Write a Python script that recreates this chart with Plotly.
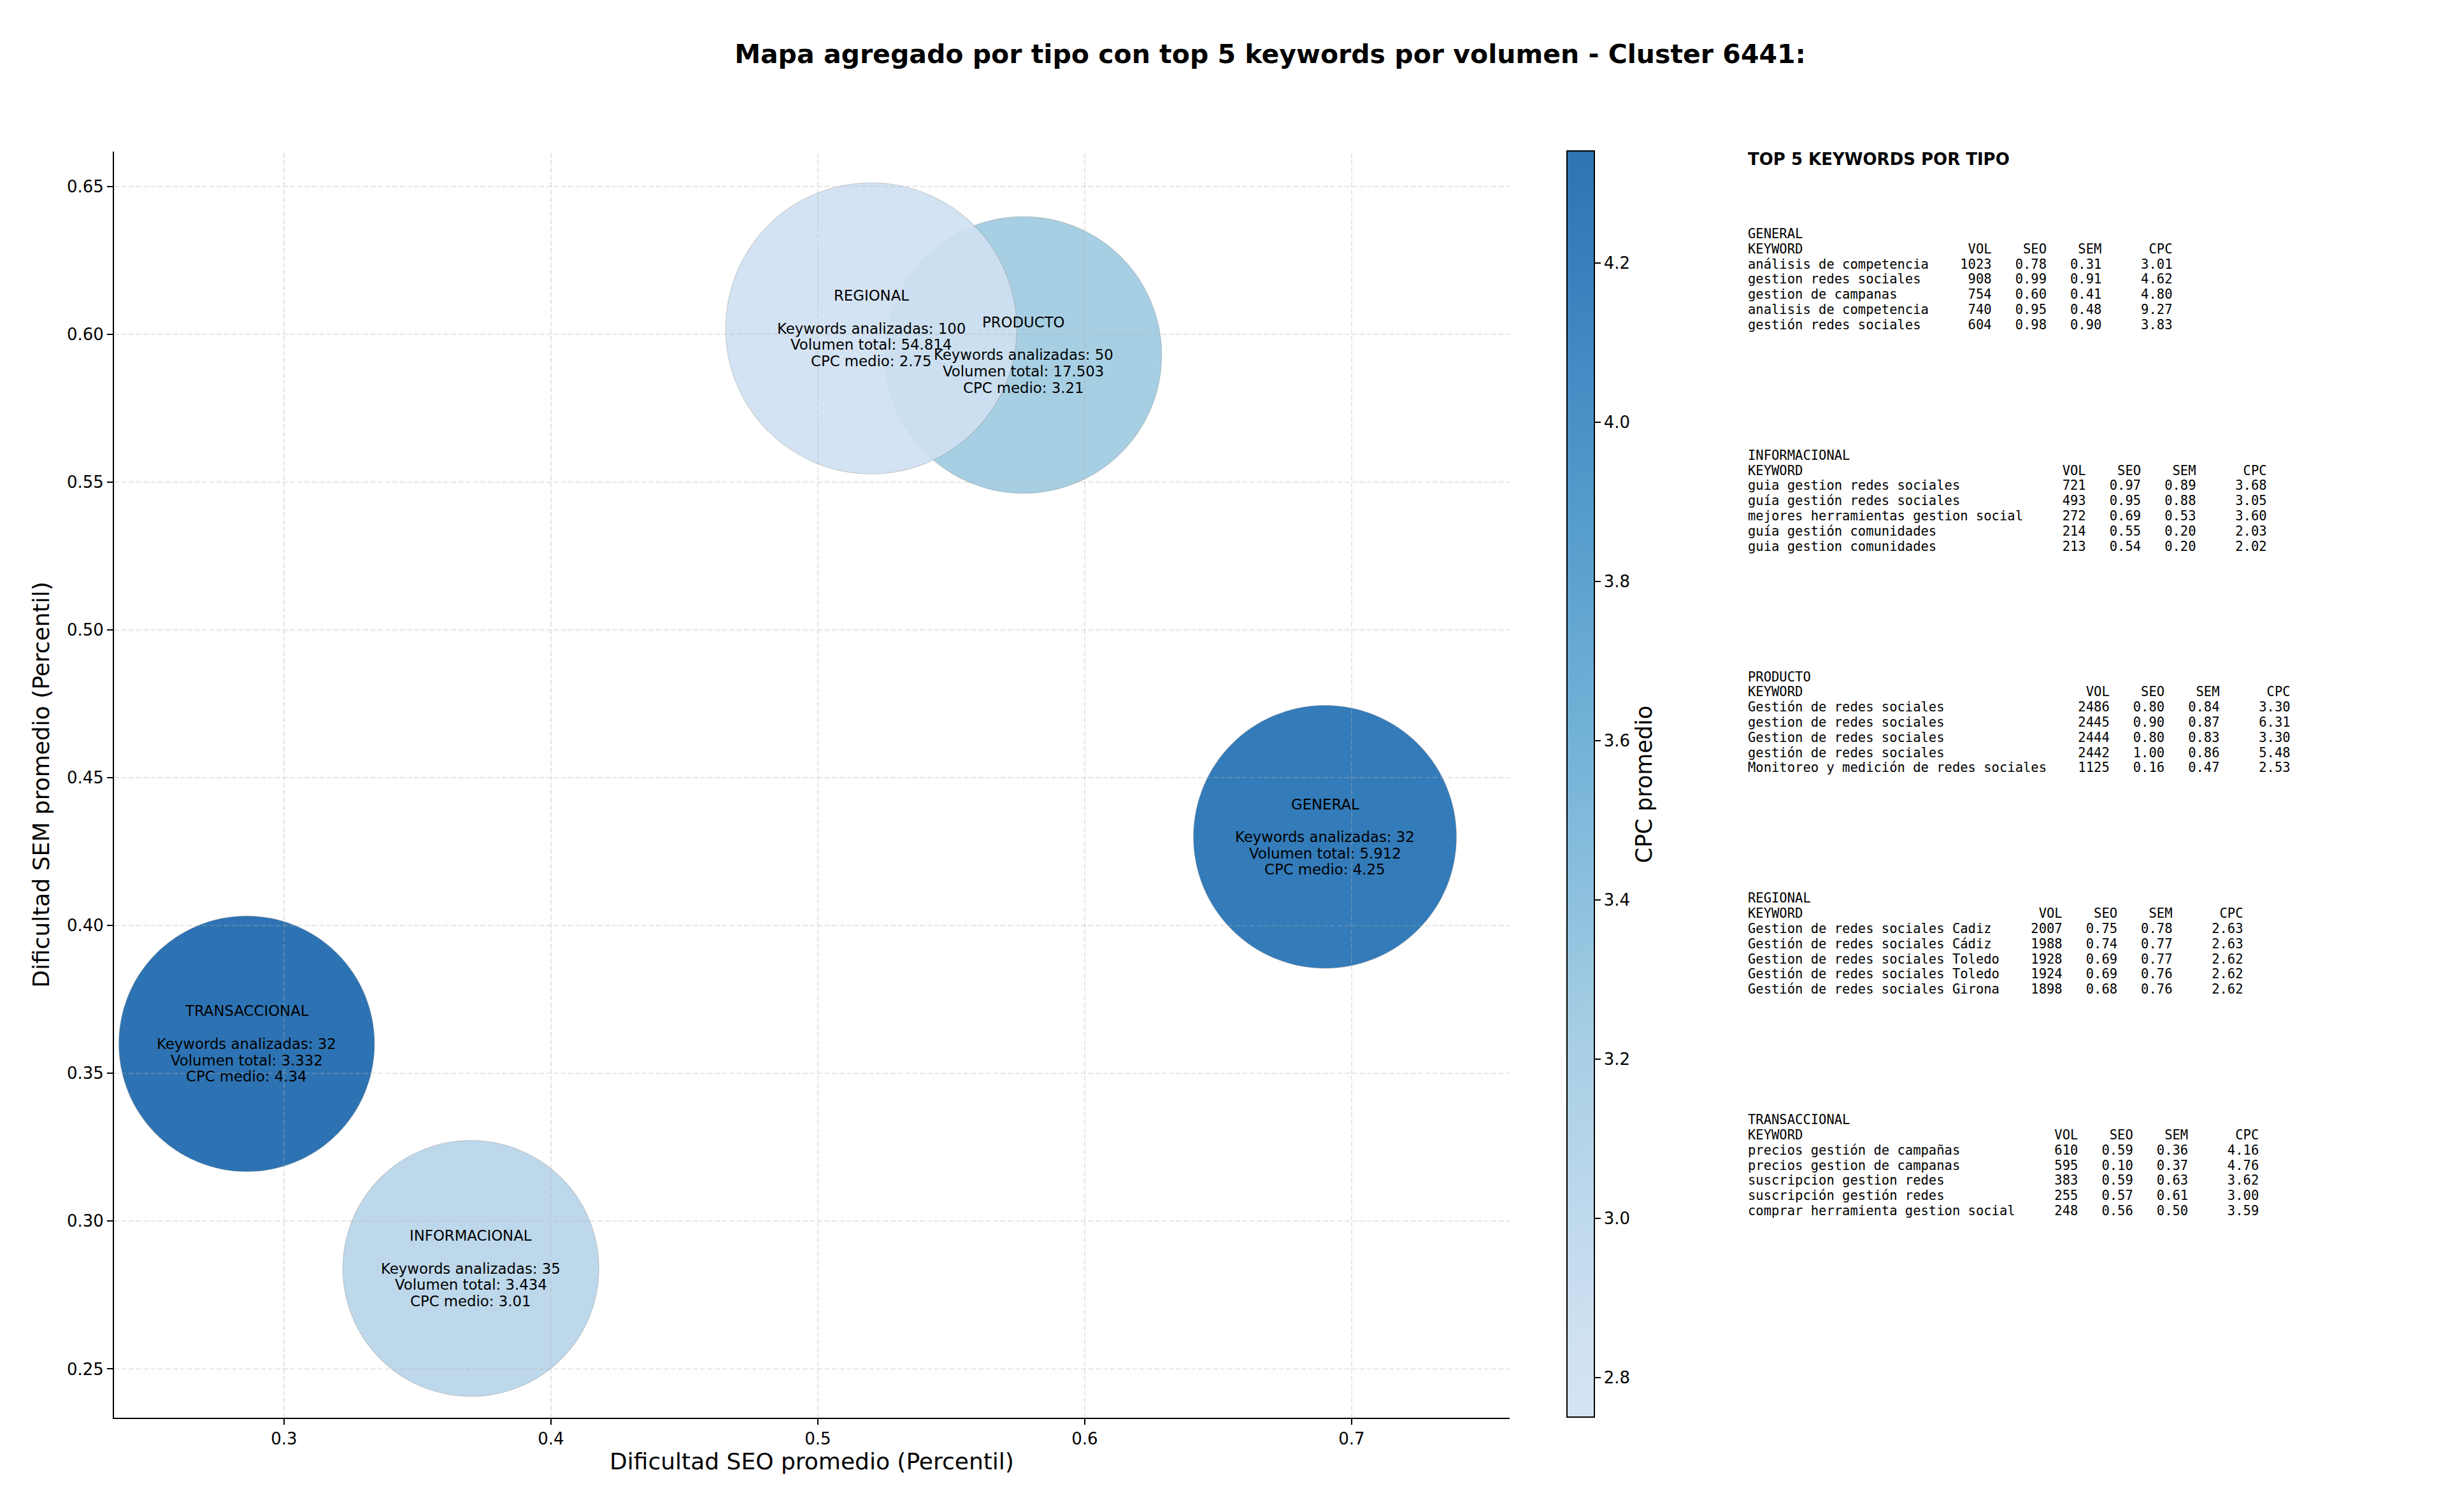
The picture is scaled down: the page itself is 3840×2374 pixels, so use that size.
import numpy as np
import plotly.graph_objects as go

W, H = 3840, 2374

# datos agregados por tipo
tipos = ["GENERAL", "INFORMACIONAL", "PRODUCTO", "REGIONAL", "TRANSACCIONAL"]
seo_medio = [0.690, 0.370, 0.577, 0.520, 0.286]
sem_medio = [0.430, 0.284, 0.593, 0.602, 0.360]
n_keywords = [32, 35, 50, 100, 32]
volumen_total = [5912, 3434, 17503, 54814, 3332]
cpc_medio = [4.25, 3.01, 3.21, 2.75, 4.34]

# top 5 keywords por tipo: keyword, volumen, seo, sem, cpc
top_general = [
    ("análisis de competencia", 1023, 0.78, 0.31, 3.01),
    ("gestion redes sociales", 908, 0.99, 0.91, 4.62),
    ("gestion de campanas", 754, 0.60, 0.41, 4.80),
    ("analisis de competencia", 740, 0.95, 0.48, 9.27),
    ("gestión redes sociales", 604, 0.98, 0.90, 3.83),
]
top_informacional = [
    ("guia gestion redes sociales", 721, 0.97, 0.89, 3.68),
    ("guía gestión redes sociales", 493, 0.95, 0.88, 3.05),
    ("mejores herramientas gestion social", 272, 0.69, 0.53, 3.60),
    ("guía gestión comunidades", 214, 0.55, 0.20, 2.03),
    ("guia gestion comunidades", 213, 0.54, 0.20, 2.02),
]
top_producto = [
    ("Gestión de redes sociales", 2486, 0.80, 0.84, 3.30),
    ("gestion de redes sociales", 2445, 0.90, 0.87, 6.31),
    ("Gestion de redes sociales", 2444, 0.80, 0.83, 3.30),
    ("gestión de redes sociales", 2442, 1.00, 0.86, 5.48),
    ("Monitoreo y medición de redes sociales", 1125, 0.16, 0.47, 2.53),
]
top_regional = [
    ("Gestion de redes sociales Cadiz", 2007, 0.75, 0.78, 2.63),
    ("Gestión de redes sociales Cádiz", 1988, 0.74, 0.77, 2.63),
    ("Gestion de redes sociales Toledo", 1928, 0.69, 0.77, 2.62),
    ("Gestión de redes sociales Toledo", 1924, 0.69, 0.76, 2.62),
    ("Gestión de redes sociales Girona", 1898, 0.68, 0.76, 2.62),
]
top_transaccional = [
    ("precios gestión de campañas", 610, 0.59, 0.36, 4.16),
    ("precios gestion de campanas", 595, 0.10, 0.37, 4.76),
    ("suscripcion gestion redes", 383, 0.59, 0.63, 3.62),
    ("suscripción gestión redes", 255, 0.57, 0.61, 3.00),
    ("comprar herramienta gestion social", 248, 0.56, 0.50, 3.59),
]
tops = [top_general, top_informacional, top_producto, top_regional, top_transaccional]

x_ticks = [0.3, 0.4, 0.5, 0.6, 0.7]
y_ticks = [0.25, 0.30, 0.35, 0.40, 0.45, 0.50, 0.55, 0.60, 0.65]
cb_ticks = [2.8, 3.0, 3.2, 3.4, 3.6, 3.8, 4.0, 4.2]

# colormap Blues (matplotlib) recortado entre 0.2 y 0.8
blues = [(0.0, "#f7fbff"), (0.125, "#deebf7"), (0.25, "#c6dbef"), (0.375, "#9ecae1"),
         (0.5, "#6baed6"), (0.625, "#4292c6"), (0.75, "#2171b5"), (0.875, "#08519c"),
         (1.0, "#08306b")]


def hex_rgb(h):
    return np.array([int(h[i:i + 2], 16) for i in (1, 3, 5)], dtype=float)


def blues_at(t):
    for (t0, c0), (t1, c1) in zip(blues[:-1], blues[1:]):
        if t0 <= t <= t1:
            f = (t - t0) / (t1 - t0)
            return hex_rgb(c0) * (1 - f) + hex_rgb(c1) * f
    return hex_rgb(blues[-1][1])


alpha = 0.9
cs, cs_blend = [], []
for s in np.linspace(0, 1, 25):
    c = blues_at(0.2 + 0.6 * s)
    b = c * alpha + 255 * (1 - alpha)
    cs.append([s, "rgb(%d,%d,%d)" % tuple(c.round())])
    cs_blend.append([s, "rgb(%d,%d,%d)" % tuple(b.round())])

cmin, cmax = min(cpc_medio), max(cpc_medio)
sizes = 240 + 19.9 * np.log(np.array(volumen_total))

fig = go.Figure()
fig.add_trace(go.Scatter(
    x=seo_medio, y=sem_medio, mode="markers", hoverinfo="skip", showlegend=False,
    marker=dict(size=sizes, sizemode="diameter", color=cpc_medio, colorscale=cs,
                cmin=cmin, cmax=cmax, opacity=alpha,
                line=dict(width=1.2, color="rgba(120,120,120,0.35)")),
))
# traza auxiliar solo para la barra de color
fig.add_trace(go.Scatter(
    x=[None, None], y=[None, None], mode="markers", hoverinfo="skip", showlegend=False,
    marker=dict(color=[cmin, cmax], colorscale=cs_blend, cmin=cmin, cmax=cmax, showscale=True,
                colorbar=dict(
                    x=2460 / W, xanchor="left", y=1 - 237.5 / H, yanchor="top",
                    len=(2225 - 237.5) / H, lenmode="fraction", thickness=43,
                    thicknessmode="pixels", xpad=0, ypad=0,
                    outlinewidth=2, outlinecolor="black",
                    ticks="outside", ticklen=9, tickwidth=2, tickcolor="black",
                    tickvals=cb_ticks, ticktext=["%.1f" % v for v in cb_ticks],
                    tickfont=dict(size=26, color="black"),
                    title=dict(text="CPC promedio", side="right",
                               font=dict(size=35, color="black")),
                )),
))

# etiquetas de las burbujas
for tipo, x, y, n, vol, cpc in zip(tipos, seo_medio, sem_medio, n_keywords, volumen_total, cpc_medio):
    lines = [tipo, "", "Keywords analizadas: %d" % n,
             "Volumen total: " + f"{vol:,}".replace(",", "."), "CPC medio: %.2f" % cpc]
    for j, line in enumerate(lines):
        if not line:
            continue
        fig.add_annotation(x=x, y=y, text=line, showarrow=False, xanchor="center",
                           yanchor="middle", yshift=(2 - j) * 25.7,
                           font=dict(size=22.8, color="black"))

# rejilla discontinua por encima de las burbujas
grid = dict(color="rgba(176,176,176,0.32)", width=2, dash="8px,3.5px")
for v in x_ticks:
    fig.add_shape(type="line", xref="x", yref="y domain", x0=v, x1=v, y0=0, y1=1,
                  line=grid, layer="above")
for v in y_ticks:
    fig.add_shape(type="line", xref="x domain", yref="y", x0=0, x1=1, y0=v, y1=v,
                  line=grid, layer="above")

# panel de texto con el top 5
px0 = 2742 / W
fig.add_annotation(xref="paper", yref="paper", x=px0, y=1 - 250 / H, xanchor="left",
                   yanchor="middle", showarrow=False, text="<b>TOP 5 KEYWORDS POR TIPO</b>",
                   font=dict(size=26, color="black"))
nb = "\u00a0"
for i, (tipo, rows) in enumerate(zip(tipos, tops)):
    w = max(len(r[0]) for r in rows)
    block = [tipo, f"{'KEYWORD':<{w}}{'VOL':>8}{'SEO':>7}{'SEM':>7}{'CPC':>9}"]
    for kw, vol, seo, sem, cpc in rows:
        block.append(f"{kw:<{w}}{vol:>8}{seo:>7.2f}{sem:>7.2f}{cpc:>9.2f}")
    for j, line in enumerate(block):
        yy = 367 + i * 347.8 + j * 23.8
        fig.add_annotation(xref="paper", yref="paper", x=px0, y=1 - yy / H, xanchor="left",
                           yanchor="middle", showarrow=False, text=line.replace(" ", nb),
                           font=dict(size=20.5, color="black", family="DejaVu Sans Mono"))

axis_common = dict(
    showline=True, linecolor="black", linewidth=2, mirror=False, showgrid=False,
    zeroline=False, ticks="outside", ticklen=9, tickwidth=2, tickcolor="black",
    tickfont=dict(size=26, color="black"), layer="above traces",
)
fig.update_layout(
    width=W, height=H, template="none",
    paper_bgcolor="white", plot_bgcolor="white",
    font=dict(family="DejaVu Sans", color="black"),
    margin=dict(l=0, r=0, t=0, b=0),
    title=dict(text="<b>Mapa agregado por tipo con top 5 keywords por volumen - Cluster 6441:</b>",
               x=1994 / W, xanchor="center", y=1 - 85 / H, yanchor="middle",
               font=dict(size=41, color="black")),
    xaxis=dict(axis_common, domain=[179 / W, 2370 / W], range=[0.2363, 0.7592],
               tickvals=x_ticks, ticktext=["%.1f" % v for v in x_ticks],
               title=dict(text="Dificultad SEO promedio (Percentil)", standoff=8,
                          font=dict(size=36, color="black"))),
    yaxis=dict(axis_common, domain=[1 - 2226 / H, 1 - 238 / H], range=[0.2335, 0.6618],
               tickvals=y_ticks, ticktext=["%.2f" % v for v in y_ticks],
               title=dict(text="Dificultad SEM promedio (Percentil)", standoff=16,
                          font=dict(size=36, color="black"))),
)

fig.write_html("out.html", config={"displayModeBar": False},
               post_script="document.body.style.margin='0';")
